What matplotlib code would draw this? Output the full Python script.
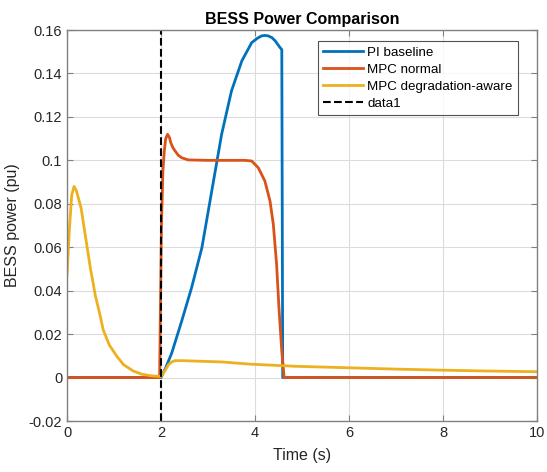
import matplotlib
matplotlib.use("Agg")
import matplotlib.pyplot as plt

# ---- data ----
pi_t = [0, 1.0, 2.0, 2.1, 2.23, 2.44, 2.65, 2.87, 3.08, 3.29, 3.50, 3.72, 3.93, 4.05, 4.14, 4.21, 4.28, 4.36, 4.43, 4.53, 4.57, 4.59, 6.0, 8.0, 10.0]
pi_v = [0, 0, 0, 0.0045, 0.0114, 0.026, 0.0413, 0.0598, 0.0859, 0.112, 0.132, 0.1458, 0.1542, 0.1562, 0.1573, 0.1575, 0.1573, 0.1565, 0.155, 0.152, 0.151, 0.0, 0, 0, 0]

mpc_t = [0, 1.0, 1.97, 2.01, 2.04, 2.07, 2.10, 2.14, 2.18, 2.21, 2.25, 2.30, 2.37, 2.44, 2.58, 3.0, 3.5, 3.79, 3.93, 4.07, 4.21, 4.32, 4.39, 4.46, 4.51, 4.57, 4.62, 6.0, 8.0, 10.0]
mpc_v = [0, 0, 0, 0.0705, 0.095, 0.1043, 0.110, 0.112, 0.1105, 0.108, 0.106, 0.1043, 0.1023, 0.1012, 0.1002, 0.1, 0.1, 0.1, 0.0997, 0.0966, 0.0905, 0.0812, 0.0705, 0.052, 0.032, 0.0121, 0, 0, 0, 0]

deg_t = [0, 0.05, 0.1, 0.15, 0.2, 0.3, 0.35, 0.4, 0.5, 0.56, 0.6, 0.7, 0.77, 0.9, 1.06, 1.2, 1.41, 1.6, 1.8, 2.0, 2.08, 2.16, 2.23, 2.30, 2.45, 2.58, 3.29, 3.89, 4.85, 6.0, 7.0, 8.0, 9.0, 10.0]
deg_v = [0.047, 0.068, 0.084, 0.088, 0.086, 0.078, 0.071, 0.064, 0.050, 0.043, 0.038, 0.029, 0.022, 0.015, 0.0098, 0.006, 0.003, 0.0015, 0.0008, 0.0005, 0.003, 0.006, 0.0072, 0.0078, 0.0078, 0.0077, 0.0072, 0.0062, 0.0052, 0.0045, 0.0039, 0.0034, 0.003, 0.0027]

event_time = 2.0

series_labels = ["PI baseline", "MPC normal", "MPC degradation-aware", "data1"]
colors = ["#0072BD", "#D95319", "#EDB120"]

plt.rcParams['font.family'] = ['Liberation Sans', 'DejaVu Sans']

fig = plt.figure(figsize=(5.47, 4.72), dpi=100)
ax = fig.add_axes([0.1225, 0.108, 0.8592, 0.8284])

ax.plot(pi_t, pi_v, color=colors[0], lw=2.0, label=series_labels[0])
ax.plot(mpc_t, mpc_v, color=colors[1], lw=2.0, label=series_labels[1])
ax.plot(deg_t, deg_v, color=colors[2], lw=2.0, label=series_labels[2])
ax.axvline(event_time, color='k', ls='--', lw=1.5, label=series_labels[3])

ax.set_xlim(0, 10)
ax.set_ylim(-0.02, 0.16)
ax.set_xticks([0, 2, 4, 6, 8, 10])
ax.set_yticks([-0.02, 0, 0.02, 0.04, 0.06, 0.08, 0.1, 0.12, 0.14, 0.16])
ax.set_yticklabels(['-0.02', '0', '0.02', '0.04', '0.06', '0.08', '0.1', '0.12', '0.14', '0.16'])
ax.grid(True, color='#dcdcdc', lw=0.8)
ax.set_axisbelow(True)
for s in ax.spines.values():
    s.set_color('#808080')
    s.set_linewidth(1.0)
ax.tick_params(direction='in', top=True, right=True, length=4, colors='#808080',
               labelcolor='#262626', labelsize=10.5)

ax.set_title("BESS Power Comparison", fontsize=11.5, fontweight='bold', color='#000000', pad=4)
ax.set_xlabel("Time (s)", fontsize=11.5, color='#262626', labelpad=6)
ax.set_ylabel("BESS power (pu)", fontsize=11.5, color='#262626', labelpad=6)

leg = ax.legend(loc='upper right', bbox_to_anchor=(0.959, 0.972), fontsize=9.6,
                frameon=True, fancybox=False, edgecolor='#262626', borderaxespad=0.0,
                handlelength=3.0, labelspacing=0.35, borderpad=0.4, handletextpad=0.3)
leg.get_frame().set_linewidth(0.8)

fig.savefig("out.png", dpi=100)
